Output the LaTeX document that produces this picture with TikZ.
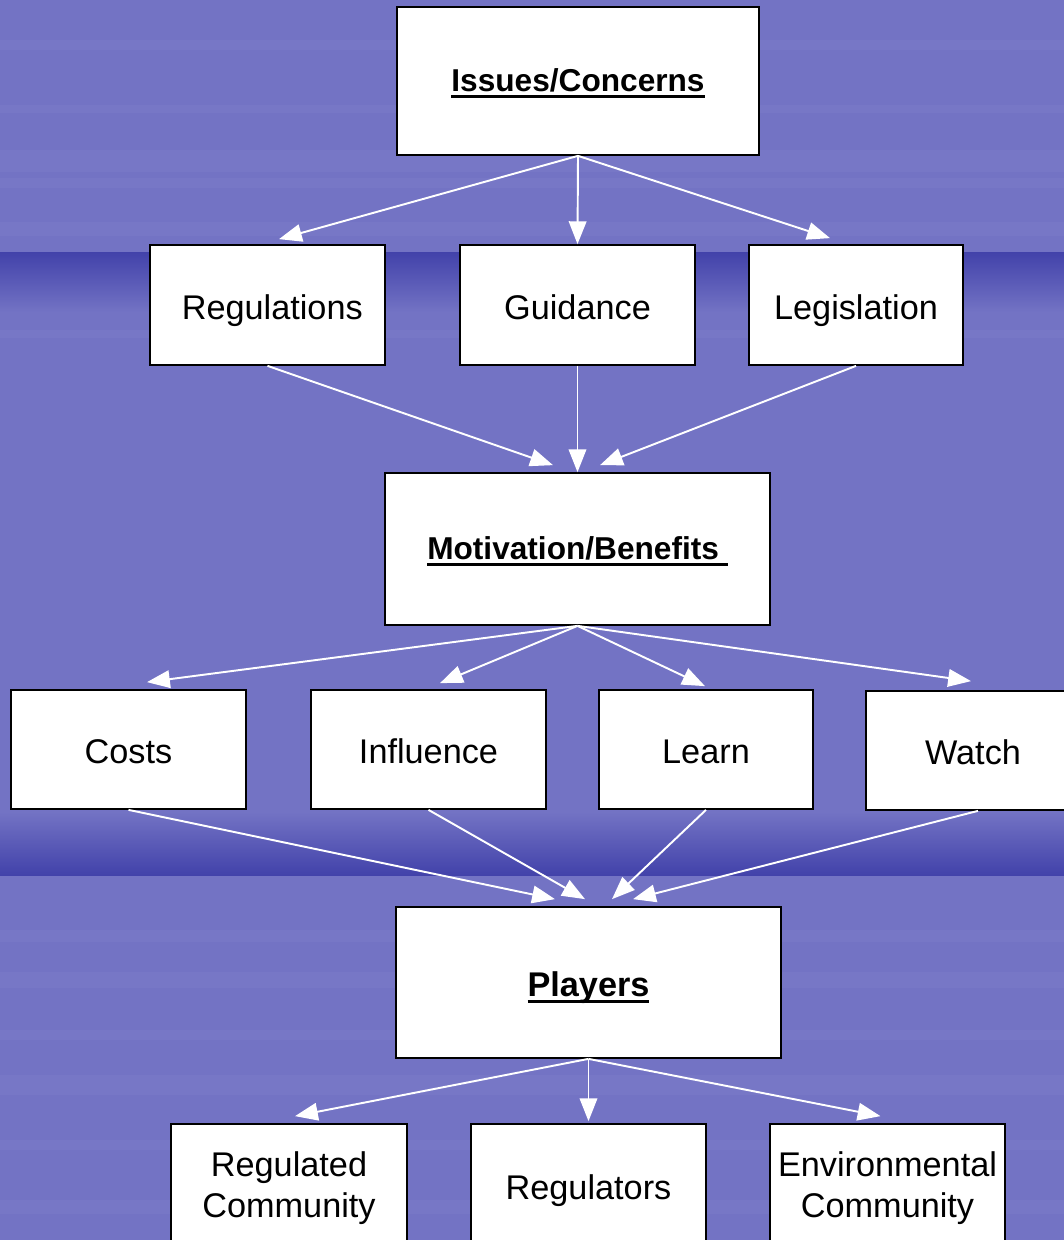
\documentclass[tikz,border=0pt]{standalone}
\usepackage{fontspec}
\setmainfont{Liberation Sans}
\usetikzlibrary{arrows.meta,calc}
\newcommand{\ulhead}[1]{\setbox0=\hbox{\bfseries #1}\leavevmode\rlap{\copy0}\rule[-3.8pt]{\wd0}{1.6pt}}

\begin{document}
\begin{tikzpicture}[x=0.02cm, y=-0.02cm,
		box/.style={draw=black, line width=1pt, fill=white, inner sep=0pt, align=center, font=\fontsize{19.5}{23.5}\selectfont},
		one/.style={box, text height=19.5pt, text depth=3.5pt},
		head/.style={box, font=\fontsize{18}{22}\selectfont, text height=16pt, text depth=4pt},
		link/.style={white, line width=1.1pt, -{Triangle[length=13pt, width=10pt]}}]
			\definecolor{slideBlue}{RGB}{115,115,196}
			\definecolor{slideDark}{RGB}{66,66,170}
			\clip (0,0) rectangle (1064,1240);
			\fill[slideBlue] (0,0) rectangle (1064,1240);
			\shade[top color=slideDark, bottom color=slideBlue] (0,252) rectangle (1064,312);
			\shade[top color=slideBlue, bottom color=slideDark] (0,812) rectangle (1064,875);
			
			\foreach \y/\h in {40/10, 105/8, 150/22, 178/10, 222/14, 330/8, 930/12, 972/16, 1030/10, 1075/20, 1140/10, 1200/14}{
				
				\fill[white, opacity=0.035] (0,\y) rectangle (1064,\y+\h);
			}
			
			\node[head, minimum width=7.24cm, minimum height=2.96cm] (issues) at (578,81) {\ulhead{Issues/Concerns}};
			
			\node[one, minimum width=4.7cm, minimum height=2.4cm] (regs) at (267.5,305) {\ Regulations};
			\node[one, minimum width=4.7cm, minimum height=2.4cm] (guide) at (577.5,305) {Guidance};
			\node[one, minimum width=4.28cm, minimum height=2.4cm] (legis) at (856,305) {Legislation};
			
			\node[head, minimum width=7.7cm, minimum height=3.04cm] (motiv) at (577.5,549) {\ulhead{Motivation/Benefits\ }};
			
			\node[one, minimum width=4.7cm, minimum height=2.38cm] (costs) at (128.5,749.5) {Costs};
			\node[one, minimum width=4.7cm, minimum height=2.38cm] (influ) at (428.5,749.5) {Influence};
			\node[one, minimum width=4.28cm, minimum height=2.38cm] (learn) at (706,749.5) {Learn};
			\node[one, minimum width=4.28cm, minimum height=2.38cm] (watch) at (973,750.5) {Watch};
			
			\node[head, font=\fontsize{19.5}{23.5}\selectfont, text height=19.5pt, minimum width=7.7cm, minimum height=3.02cm] (players) at (588.5,982.5) {\ulhead{Players}};
			
			\node[box, minimum width=4.72cm, minimum height=2.56cm] (regcom) at (289,1188) {Regulated\\Community};
			\node[one, minimum width=4.7cm, minimum height=2.44cm] (regul) at (588.5,1185) {Regulators};
			\node[box, minimum width=4.7cm, minimum height=2.56cm] (envcom) at (887.5,1188) {Environmental\\Community};
			
			\draw[link] (issues.south) -- ($(regs.north)+(11.5,-5)$);
			\draw[link] (issues.south) -- (guide.north);
			\draw[link] (issues.south) -- ($(legis.north)+(-26,-6)$);
			
			\draw[link] (regs.south) -- ($(motiv.north)+(-24.5,-7)$);
			\draw[link] (guide.south) -- (motiv.north);
			\draw[link] (legis.south) -- ($(motiv.north)+(22.5,-7)$);
			
			\draw[link] (motiv.south) -- ($(costs.north)+(18.5,-7)$);
			\draw[link] (motiv.south) -- ($(influ.north)+(11.5,-6)$);
			\draw[link] (motiv.south) -- ($(learn.north)+(-1,-3)$);
			\draw[link] (motiv.south) -- ($(watch.north)+(-2,-9)$);
			
			\draw[link] (costs.south) -- ($(players.north)+(-33.5,-7)$);
			\draw[link] (influ.south) -- ($(players.north)+(-3.5,-7)$);
			\draw[link] (learn.south) -- ($(players.north)+(23.5,-7)$);
			\draw[link] ($(watch.south)+(5,0)$) -- ($(players.north)+(44.5,-7)$);
			
			\draw[link] (players.south) -- ($(regcom.north)+(6,-7)$);
			\draw[link] (players.south) -- ($(regul.north)+(0,-2)$);
			\draw[link] (players.south) -- ($(envcom.north)+(-7,-7)$);
		\end{tikzpicture}
\end{document}
